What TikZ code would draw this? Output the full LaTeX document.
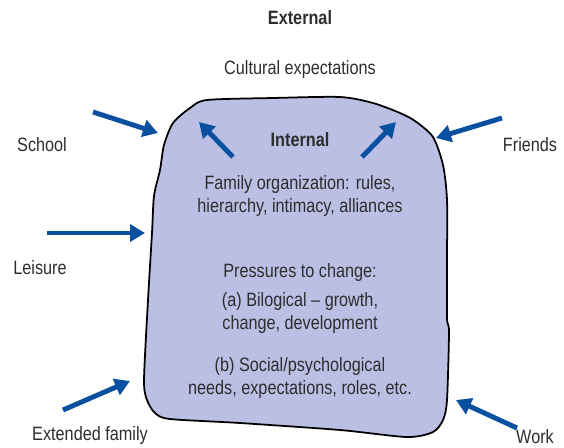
\documentclass[tikz,border=0pt]{standalone}
\usepackage{fontspec}
\setmainfont{Liberation Sans}[FakeStretch=0.84]
\usetikzlibrary{arrows.meta,positioning}
\definecolor{inkblue}{RGB}{10,80,160}
\definecolor{lilac}{RGB}{187,191,227}
\definecolor{textgray}{RGB}{45,45,45}
\tikzset{
  lbl/.style={text=textgray,font=\fontsize{11}{12.6}\selectfont,align=center,inner sep=0pt},
  head/.style={lbl,font=\fontsize{11}{12.6}\selectfont\bfseries},
  flow/.style={inkblue,line width=2.8pt,-{Triangle[length=3mm,width=3.4mm]}}
}
\begin{document}
\begin{tikzpicture}[x=0.02cm,y=-0.02cm]
        \useasboundingbox (0,0) rectangle (564,447);
        % the family system
        \draw[black,line width=1pt,fill=lilac] plot[smooth cycle,tension=0.45] coordinates {
          (207,100) (273,98) (340,97) (373,103) (400,113) (415,121) (433,137) (443,165)
          (447,200) (447,260) (447,318) (449,332) (447,400) (443,420) (433,432) (407,437)
          (340,430) (240,423) (170,419) (155,413) (147,400) (144,380) (148,300) (152,233)
          (154,196) (160,170) (164,145) (173,123) (190,108)};
        \node[head] (ext) at (300,18) {External};
        \node[lbl] (cult) at (300,69) {Cultural expectations};
        \node[head] (int) at (300,140) {Internal};
        \node[lbl] (org) at (300,196) {Family organization: rules,\\hierarchy, intimacy, alliances};
        \node[lbl] (press) at (300,272) {Pressures to change:};
        \node[lbl] (bio) at (300,313) {(a) Bilogical -- growth,\\change, development};
        \node[lbl] (soc) at (300,378) {(b) Social/psychological\\needs, expectations, roles, etc.};
        % outside influences
        \foreach \p/\n/\l in {(42,145)/school/School,(530,145)/friends/Friends,(40,268)/leisure/Leisure,
            (90,435)/extfam/Extended family,(535,437)/work/Work}{
          \node[lbl] (\n) at \p {\l};
        }
        \coordinate (schT) at (93,112);  \coordinate (schH) at (158,133);
        \coordinate (friT) at (502,118); \coordinate (friH) at (436,138);
        \coordinate (leiT) at (47,233);  \coordinate (leiH) at (145,233);
        \coordinate (extT) at (63,410);  \coordinate (extH) at (130,381);
        \coordinate (wrkT) at (517,428); \coordinate (wrkH) at (456,400);
        \coordinate (inLT) at (233,157); \coordinate (inLH) at (199,122);
        \coordinate (inRT) at (362,157); \coordinate (inRH) at (396,122);
        \foreach \t/\h in {schT/schH,friT/friH,leiT/leiH,extT/extH,wrkT/wrkH,inLT/inLH,inRT/inRH}{
          \draw[flow] (\t) -- (\h);
        }
      \end{tikzpicture}
\end{document}
